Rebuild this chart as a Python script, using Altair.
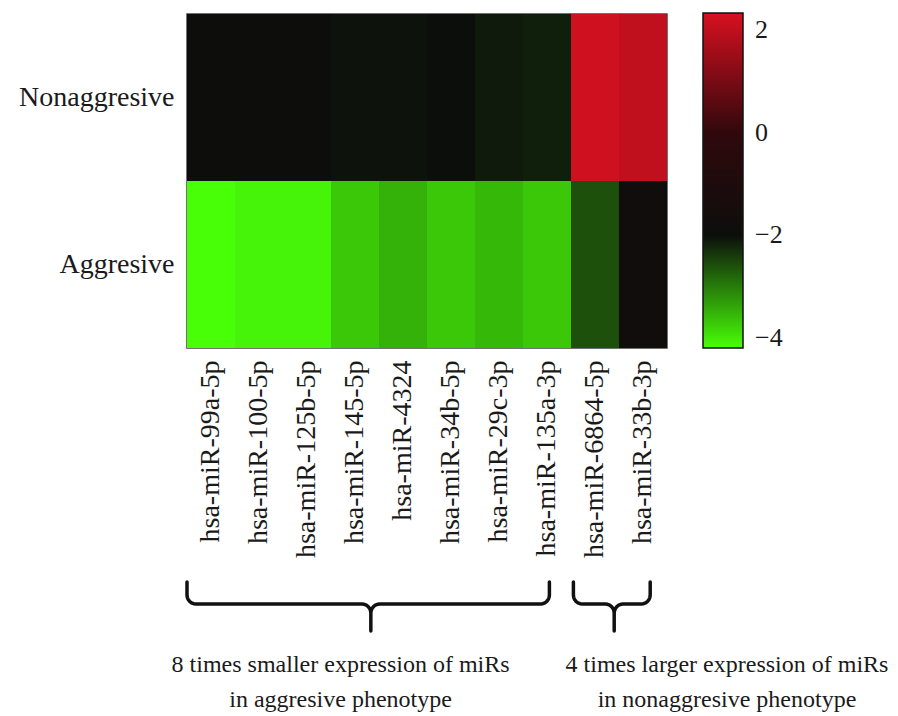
import altair as alt
import pandas as pd
import numpy as np

# ---------------- data ----------------
mirs = ["hsa-miR-99a-5p", "hsa-miR-100-5p", "hsa-miR-125b-5p", "hsa-miR-145-5p",
        "hsa-miR-4324", "hsa-miR-34b-5p", "hsa-miR-29c-3p", "hsa-miR-135a-3p",
        "hsa-miR-6864-5p", "hsa-miR-33b-3p"]
phenotypes = ["Nonaggresive", "Aggresive"]
nonaggressive_vals = [-1.95, -1.95, -1.95, -2.05, -2.05, -2.0, -2.1, -2.15, 2.2, 2.0]
aggressive_vals = [-4.2, -4.1, -4.1, -3.7, -3.5, -3.7, -3.55, -3.7, -2.6, -1.8]

legend_ticks = [2, 0, -2, -4]
color_domain = [-4.2, -2.0, 0.0, 2.33]
color_range = ["#48ff08", "#0c0e0c", "#30080c", "#d81020"]

# annotation groups (column spans in column units)
group_line1 = ["8 times smaller expression of miRs", "4 times larger expression of miRs"]
group_line2 = ["in aggresive phenotype", "in nonaggresive phenotype"]
brace_start = [0.0, 8.05]
brace_end = [7.55, 9.65]
brace_mid = [3.83, 8.9]
text_center = [3.2, 11.25]

FONT = "Liberation Serif"
W, H = 480, 334
COLW = W / len(mirs)

rows = []
for p, vals in zip(phenotypes, [nonaggressive_vals, aggressive_vals]):
    for m, v in zip(mirs, vals):
        rows.append({"miR": m, "phenotype": p, "value": v})
df = pd.DataFrame(rows)

heat = alt.Chart(df).mark_rect(stroke=None).encode(
    x=alt.X("miR:N", sort=mirs,
            axis=alt.Axis(title=None, labelAngle=270, labelFontSize=28, labelFont=FONT,
                          labelPadding=12, ticks=False, domain=False, labelColor="#1a1a1a",
                          labelLimit=400)),
    y=alt.Y("phenotype:N", sort=phenotypes,
            axis=alt.Axis(title=None, ticks=False, domain=False, labelFontSize=28,
                          labelFont=FONT, labelPadding=13, labelColor="#1a1a1a", labelLimit=400)),
    color=alt.Color("value:Q",
                    scale=alt.Scale(domain=color_domain, range=color_range, interpolate="rgb"),
                    legend=alt.Legend(title=None, orient="none", legendX=W + 36, legendY=-1,
                                      values=legend_ticks,
                                      gradientLength=335, gradientThickness=40,
                                      gradientStrokeColor="#111", gradientStrokeWidth=1.5,
                                      labelFontSize=26, labelFont=FONT, labelColor="#1a1a1a",
                                      labelOffset=12, labelOverlap=False,
                                      direction="vertical")),
).properties(width=W, height=H, view=alt.ViewBackground(stroke="#444", strokeWidth=1.5))

# ---------------- braces ----------------
L, T, R0 = 25.0, 52.0, 9.0  # px geometry of brace shape
rx = R0 / COLW
th = np.linspace(0, np.pi / 2, 7)
brace_rows = []
for g, (a, b, m) in enumerate(zip(brace_start, brace_end, brace_mid)):
    pts = [(a, 3.0)]
    pts += [(a + rx * (1 - np.cos(t)), (L - R0) + R0 * np.sin(t)) for t in th]
    pts += [(m - rx + rx * np.sin(t), L + R0 - R0 * np.cos(t)) for t in th]
    pts += [(m, T), (m, L + R0)]
    pts += [(m + rx * (1 - np.cos(t)), L + R0 - R0 * np.sin(t)) for t in th]
    pts += [(b - rx + rx * np.sin(t), L - R0 + R0 * np.cos(t)) for t in th]
    pts += [(b, 3.0)]
    for i, (x, y) in enumerate(pts):
        brace_rows.append({"g": g, "o": i, "x": x, "y": y})
bdf = pd.DataFrame(brace_rows)

xs = alt.Scale(domain=[0, len(mirs)], nice=False, zero=False)
ys = alt.Scale(domain=[0, 125], nice=False, zero=False, reverse=True)

braces = alt.Chart(bdf).mark_line(color="#111", strokeWidth=3.5, strokeCap="round",
                                  strokeJoin="round").encode(
    x=alt.X("x:Q", scale=xs, axis=None),
    y=alt.Y("y:Q", scale=ys, axis=None),
    detail="g:N", order="o:Q")

tdf = pd.DataFrame({
    "x": text_center * 2,
    "y": [86.0] * 2 + [121.0] * 2,
    "t": group_line1 + group_line2,
})
texts = alt.Chart(tdf).mark_text(font=FONT, fontSize=24, color="#1a1a1a", baseline="middle",
                                 align="center").encode(
    x=alt.X("x:Q", scale=xs, axis=None),
    y=alt.Y("y:Q", scale=ys, axis=None),
    text="t:N")

bottom = alt.layer(braces, texts).properties(width=W, height=125,
                                             view=alt.ViewBackground(stroke=None))

chart = alt.vconcat(heat, bottom, spacing=20).resolve_scale(
    x="independent", y="independent").properties(
    padding={"left": 9, "top": 5, "right": 0, "bottom": 0})

chart.save("out.html", embed_options={"renderer": "svg", "actions": False})
